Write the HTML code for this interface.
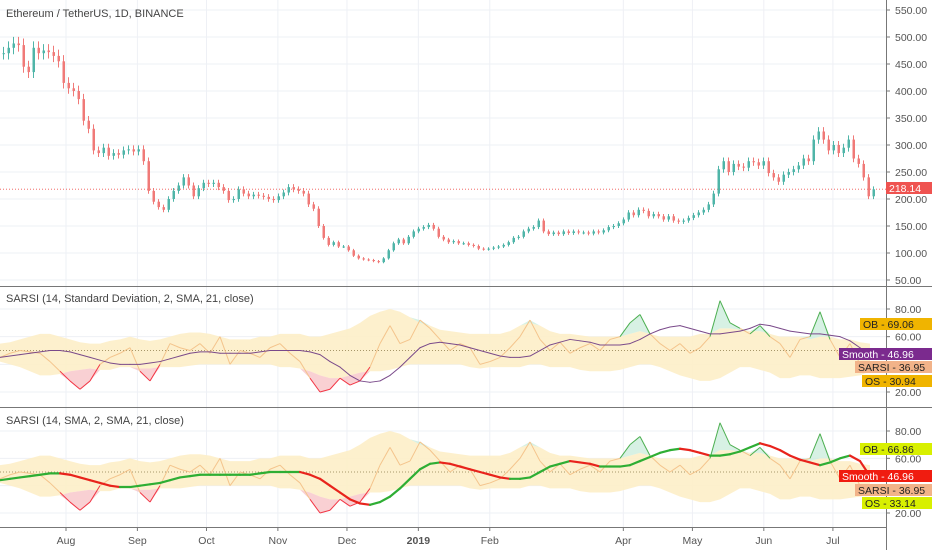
<!DOCTYPE html>
<html><head><meta charset="utf-8">
<style>
body{margin:0;background:#fff;}
svg{display:block;font-family:"Liberation Sans",sans-serif;}
</style></head>
<body>
<svg id="c" width="932" height="550" xmlns="http://www.w3.org/2000/svg">
<rect width="932" height="550" fill="#fff"/>
<g id="grid"></g>
<g id="p1"></g>
<g id="p2"></g>
<g id="p3"></g>
<g id="axes"></g>
</svg>
<script>
const closes=[470,480,488,485,445,435,480,470,475,472,465,455,415,405,400,385,345,330,290,285,295,280,285,282,290,292,288,292,270,215,195,185,180,200,215,225,240,225,205,220,230,228,230,222,215,198,200,218,210,205,208,206,204,200,198,205,212,222,218,215,210,190,182,150,128,115,120,112,112,105,95,90,88,87,85,83,90,105,118,125,118,130,140,145,148,152,145,130,125,120,122,118,118,115,113,108,107,108,110,112,115,120,128,130,140,145,148,160,140,135,138,135,140,137,140,138,138,136,140,138,142,148,150,155,162,175,170,180,178,168,172,168,162,168,160,158,160,165,170,175,180,190,210,255,270,250,265,260,258,270,268,262,270,248,240,232,245,250,255,262,275,270,310,325,310,290,300,285,295,310,275,265,240,205,218];
const sarsi=[45,48,50,49,48,42,35,28,22,28,40,45,48,52,35,28,40,55,52,50,55,48,60,40,50,48,45,52,55,48,42,30,20,22,30,25,28,38,55,68,55,58,72,66,58,50,55,52,40,42,45,52,60,72,58,50,56,48,52,55,50,58,60,70,76,62,55,50,55,48,52,60,86,70,66,62,68,60,55,45,58,60,78,58,45,55,40,37];
const bandUpper=[55,56,58,60,62,62,60,58,56,55,55,57,58,60,58,57,58,60,62,63,63,62,60,58,58,58,60,60,62,62,62,60,60,62,64,66,70,75,78,80,78,74,70,68,65,64,63,62,62,62,62,64,68,70,68,64,62,62,61,60,60,60,60,62,64,62,60,60,60,60,62,62,66,66,65,64,64,62,60,60,60,58,60,60,58,58,56,55];
const bandLower=[42,40,38,35,32,32,33,35,36,37,36,36,38,38,37,37,38,38,38,39,40,40,40,40,40,40,40,40,38,38,37,35,32,30,30,32,34,35,35,36,38,40,40,40,40,40,40,38,37,38,38,38,38,40,40,38,38,38,36,35,35,35,36,38,40,40,38,35,32,30,28,28,30,34,38,38,36,34,30,30,32,32,30,30,30,31,32,35];
const smooth1=[45,46,47,48,49,50,50,49,47,45,43,41,40,40,40,41,42,44,46,48,49,49,48,48,48,48,49,50,50,50,50,49,47,42,38,32,28,27,28,32,38,45,52,55,56,55,54,52,50,48,46,45,45,46,50,54,56,58,57,56,54,54,54,55,58,62,65,67,68,66,64,62,62,63,64,66,69,68,66,64,63,62,62,61,60,57,52,47];
const smooth2=[44,45,46,47,48,49,49,48,46,44,42,40,39,39,40,41,42,44,46,47,48,48,48,48,48,48,49,50,50,50,50,48,45,40,35,30,27,26,28,32,38,45,52,56,57,56,54,52,50,48,46,45,45,46,50,54,56,58,57,56,54,54,54,55,58,61,64,66,67,66,64,62,62,63,65,68,71,69,66,62,59,57,55,57,60,62,58,47];
const priceTicks=[550,500,450,400,350,300,250,200,150,100,50];
const oscTicks=[80,60,20];
const monthLabels=["Aug","Sep","Oct","Nov","Dec","2019","Feb","Apr","May","Jun","Jul"];
const monthDays=[29,60,90,121,151,182,213,271,301,332,362];

const NS="http://www.w3.org/2000/svg";
function el(tag,attrs,parent,text){const e=document.createElementNS(NS,tag);for(const k in attrs)e.setAttribute(k,attrs[k]);if(text!==undefined)e.textContent=text;parent.appendChild(e);return e;}
const W=886;
const yP=p=>37+(500-p)*0.54;
const y2=v=>392-(v-20)*(83/60);
const y3=v=>513-(v-20)*(82/60);
const xC=i=>2+5*i;
const xI=i=>10*i;
const xD=d=>66+(d-29)*2.303;

const grid=document.getElementById('grid');
monthDays.forEach(d=>{const l=el('line',{x1:xD(d),x2:xD(d),y1:0,y2:527,stroke:'#eef0f5'},grid);

});
priceTicks.forEach(p=>{const l=el('line',{x1:0,x2:W,y1:yP(p),y2:yP(p),stroke:'#eef0f5'},grid);

});
[80,60,40,20].forEach(v=>{el('line',{x1:0,x2:W,y1:y2(v),y2:y2(v),stroke:'#eef0f5'},grid);el('line',{x1:0,x2:W,y1:y3(v),y2:y3(v),stroke:'#eef0f5'},grid);});

const p1=document.getElementById('p1');
el('line',{x1:0,x2:W,y1:yP(218.14),y2:yP(218.14),stroke:'#ef5350','stroke-dasharray':'1,2','stroke-width':0.8},p1);
closes.forEach((c,i)=>{
  const o=i?closes[i-1]:c;
  const up=c>=o;const col=up?'#4fb5a8':'#f07a78';
  const hi=Math.max(o,c)*1.025, lo=Math.min(o,c)*0.975;
  const x=xC(i);
  const g=el('g',{},p1);
  
  
  el('line',{x1:x+1.5,x2:x+1.5,y1:yP(hi),y2:yP(lo),stroke:col,'stroke-width':1},g);
  const top=yP(Math.max(o,c)),bot=yP(Math.min(o,c));
  el('rect',{x:x+0.5,y:top,width:2.5,height:Math.max(1,bot-top),fill:col},g);
});
const t1=el('text',{x:6,y:17,'font-size':11,fill:'#444'},p1,'Ethereum / TetherUS, 1D, BINANCE');



function osc(pane,yf,smooth,thick,title){
  const g=document.getElementById(pane);
  let up='',lo='';
  bandUpper.forEach((v,i)=>{up+=(i?'L':'M')+xI(i)+','+yf(v);});
  for(let i=bandLower.length-1;i>=0;i--)lo+='L'+xI(i)+','+yf(bandLower[i]);
  const b=el('path',{d:up+lo+'Z',fill:'#fdeec8',opacity:0.9},g);
  
  
  el('line',{x1:0,x2:W,y1:yf(50),y2:yf(50),stroke:'#8a7a4a','stroke-dasharray':'1,2','stroke-width':0.8},g);
  let rf='',rb='';
  sarsi.forEach((v,i)=>{rf+=(i?'L':'M')+xI(i)+','+yf(bandLower[i]);});
  for(let i=sarsi.length-1;i>=0;i--)rb+='L'+xI(i)+','+yf(Math.min(sarsi[i],bandLower[i]));
  el('path',{d:rf+rb+'Z',fill:'#f8c4c8',opacity:0.8},g);
  let gf='',gb='';
  sarsi.forEach((v,i)=>{gf+=(i?'L':'M')+xI(i)+','+yf(Math.max(sarsi[i],bandUpper[i]));});
  for(let i=sarsi.length-1;i>=0;i--)gb+='L'+xI(i)+','+yf(bandUpper[i]);
  el('path',{d:gf+gb+'Z',fill:'#cdeedd',opacity:0.8},g);
  for(let i=1;i<sarsi.length;i++){
    const v=(sarsi[i]+sarsi[i-1])/2,lb=(bandLower[i]+bandLower[i-1])/2,ub=(bandUpper[i]+bandUpper[i-1])/2;
    const col=v<lb?'#f23645':(v>ub?'#4caf50':'#f4c48c');
    const s=el('line',{x1:xI(i-1),y1:yf(sarsi[i-1]),x2:xI(i),y2:yf(sarsi[i]),stroke:col,'stroke-width':1},g);
    
    
  }
  for(let i=1;i<smooth.length;i++){
    const col=thick?(smooth[i]>=smooth[i-1]?'#2eae34':'#e8231c'):'#7a4a8a';
    const s=el('line',{x1:xI(i-1),y1:yf(smooth[i-1]),x2:xI(i),y2:yf(smooth[i]),stroke:col,'stroke-width':thick?2.2:1,'stroke-linecap':'round'},g);
    
    
  }
  const t=el('text',{x:6,y:yf===y2?302:424,'font-size':11,fill:'#444'},g,title);
  
  
}
osc('p2',y2,smooth1,false,'SARSI (14, Standard Deviation, 2, SMA, 21, close)');
osc('p3',y3,smooth2,true,'SARSI (14, SMA, 2, SMA, 21, close)');

const ax=document.getElementById('axes');
el('rect',{x:W,y:0,width:46,height:550,fill:'#fff'},ax);
el('line',{x1:W+0.5,x2:W+0.5,y1:0,y2:550,stroke:'#777'},ax);
el('line',{x1:0,x2:932,y1:286.5,y2:286.5,stroke:'#777'},ax);
el('line',{x1:0,x2:932,y1:407.5,y2:407.5,stroke:'#777'},ax);
el('line',{x1:0,x2:W,y1:527.5,y2:527.5,stroke:'#777'},ax);
priceTicks.forEach(p=>{el('line',{x1:W,x2:W+4,y1:yP(p),y2:yP(p),stroke:'#777'},ax);
const t=el('text',{x:895,y:yP(p)+4,'font-size':10.5,fill:'#555'},ax,p.toFixed(2));

});
oscTicks.forEach(v=>{[y2,y3].forEach(f=>{el('line',{x1:W,x2:W+4,y1:f(v),y2:f(v),stroke:'#777'},ax);
const t=el('text',{x:895,y:f(v)+4,'font-size':10.5,fill:'#555'},ax,v.toFixed(2));

});});
monthLabels.forEach((m,i)=>{const x=xD(monthDays[i]);el('line',{x1:x,x2:x,y1:527,y2:531,stroke:'#777'},ax);
const t=el('text',{x:x,y:544,'font-size':10.5,fill:'#555','text-anchor':'middle','font-weight':m==='2019'?'bold':'normal'},ax,m);

});
function badge(x,y,bg,fg,txt,name){const g=el('g',{},ax);


el('rect',{x:x,y:y,width:932-x,height:12,fill:bg},g);
el('text',{x:x+3,y:y+10,'font-size':10.5,fill:fg,'xml:space':'preserve'},g,txt);}
badge(886,182,'#ef5350','#fff','218.14','last-price-label');
badge(860,318,'#f0b400','#222','OB  - 69.06','ob-label-1');
badge(839,348,'#7b2a8e','#fff','Smooth - 46.96','smooth-label-1');
badge(855,361,'#f2b389','#222','SARSI - 36.95','sarsi-label-1');
badge(862,375,'#f0b400','#222','OS  - 30.94','os-label-1');
badge(860,443,'#d8f000','#222','OB  - 66.86','ob-label-2');
badge(839,470,'#f01c10','#fff','Smooth - 46.96','smooth-label-2');
badge(855,484,'#f2b389','#222','SARSI - 36.95','sarsi-label-2');
badge(862,497,'#d8f000','#222','OS  - 33.14','os-label-2');
</script>
</body></html>
